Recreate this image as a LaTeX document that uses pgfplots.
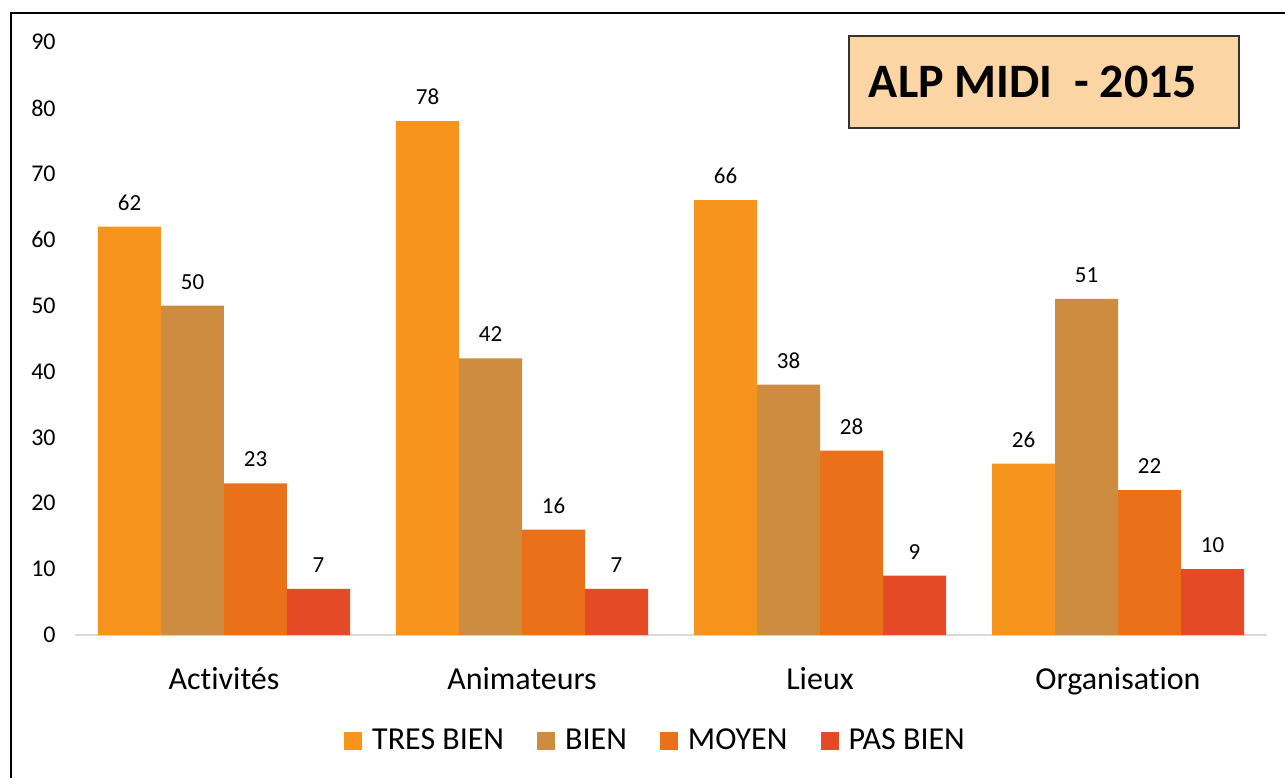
\documentclass[border=0pt]{standalone}
\usepackage{fontspec}
\setmainfont{Carlito}[Ligatures=NoCommon]
\usepackage{pgfplots}
\pgfplotsset{compat=1.18}
\definecolor{cTB}{RGB}{247,148,30}
\definecolor{cB}{RGB}{206,140,64}
\definecolor{cM}{RGB}{234,113,25}
\definecolor{cPB}{RGB}{228,74,37}
\definecolor{cTitle}{RGB}{252,213,165}
\begin{document}
\begin{tikzpicture}
\path[use as bounding box, fill=white] (-37.5pt,-71.5pt) rectangle (605pt,317.5pt);
\begin{axis}[
  at={(0pt,0pt)}, anchor=south west,
  scale only axis, width=596pt, height=296.5pt,
  ybar=0pt, bar width=31.5pt,
  xmin=-0.5, xmax=3.5, ymin=0, ymax=90,
  xtick={0,1,2,3},
  xticklabels={Activités,Animateurs,Lieux,Organisation},
  ytick={0,10,...,90},
  major tick length=0pt,
  axis x line*=bottom, axis y line*=left,
  x axis line style={draw=black!15, line width=1pt, -},
  y axis line style={draw=none},
  xticklabel style={font=\fontsize{16}{19}\selectfont, anchor=base, inner sep=0pt, yshift=-27pt},
  yticklabel style={font=\fontsize{12}{14}\selectfont, anchor=east, inner sep=0pt, xshift=-9.5pt},
  /pgf/number format/assume math mode=true,
  nodes near coords,
  every node near coord/.append style={font=\fontsize{11.5}{13}\selectfont, anchor=base, inner sep=0pt, yshift=8.25pt, black},
  legend columns=4,
  legend style={draw=none, fill=none, at={(0.4883,-0.1788)}, anchor=center,
    font=\fontsize{16}{19}\selectfont,
    /tikz/every even column/.append style={column sep=14pt},
    /tikz/every odd column/.append style={column sep=2.5pt},
    nodes={inner sep=2.5pt}},
  legend image code/.code={\fill[#1] (0pt,-4.5pt) rectangle (9pt,4.5pt);},
]
\addplot[fill=cTB, draw=none] coordinates {(0,62) (1,78) (2,66) (3,26)};
\addplot[fill=cB, draw=none] coordinates {(0,50) (1,42) (2,38) (3,51)};
\addplot[fill=cM, draw=none] coordinates {(0,23) (1,16) (2,28) (3,22)};
\addplot[fill=cPB, draw=none] coordinates {(0,7) (1,7) (2,9) (3,10)};
\legend{TRES BIEN,BIEN,MOYEN,PAS BIEN}
\end{axis}
\draw[line width=1.25pt, black] (-32pt,-71.5pt) -- (-32pt,311pt) -- (605pt,311pt);
\draw[fill=cTitle, draw=black!80, line width=0.6pt] (387pt,253.5pt) rectangle (582pt,299.5pt);
\node[font=\fontsize{24}{28}\selectfont\bfseries, inner sep=0pt] at (479pt,276.5pt) {ALP MIDI\ \ - 2015};
\end{tikzpicture}
\end{document}
